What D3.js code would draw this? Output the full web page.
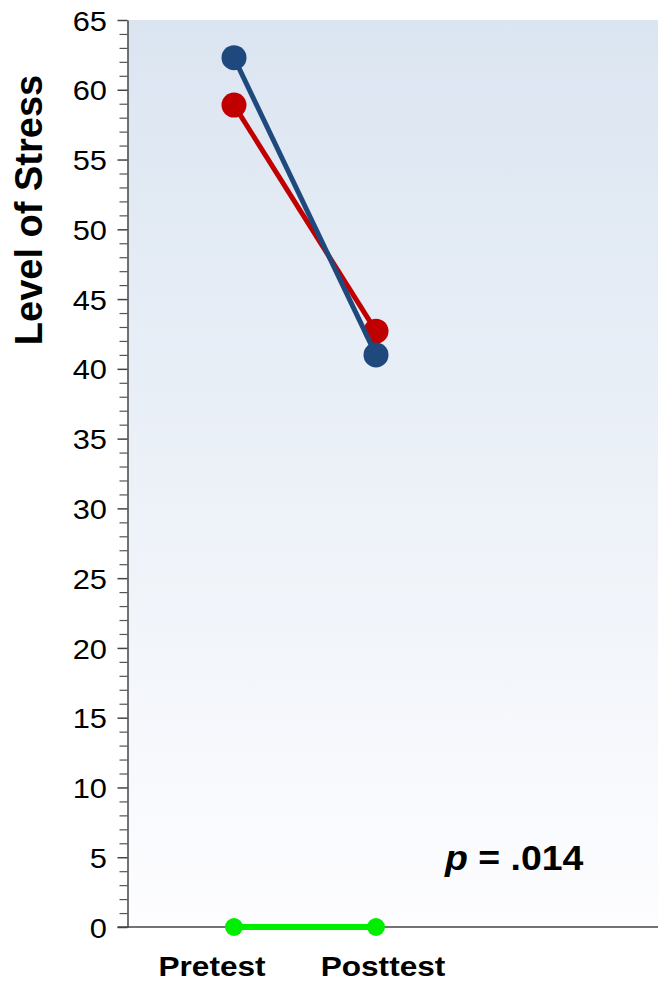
<!DOCTYPE html>
<html><head><meta charset="utf-8">
<script src="https://cdn.jsdelivr.net/npm/d3@7"></script>
<style>body{margin:0;background:#fff}svg{display:block}</style>
</head><body>
<svg id="c" width="658" height="982"></svg>
<script>
const categories = ["Pretest", "Posttest"];
const seriesBlue = [62.3, 41.0];
const seriesRed = [58.9, 42.7];
const seriesGreen = [0, 0];
const yTicks = [0,5,10,15,20,25,30,35,40,45,50,55,60,65];
const yTitle = "Level of Stress";
const pLabel = ".014";

(function(){
const svg = d3.select("#c");
const FONT = "Liberation Sans, Arial, sans-serif";
const mLeft = 127.5, mRight = 658, mTop = 20, mBottom = 927;
const y = d3.scaleLinear().domain([0, 65]).range([mBottom, mTop]);
const x = d3.scalePoint().domain(categories).range([234, 376]);

const defs = svg.append("defs");
const g = defs.append("linearGradient").attr("id","bg").attr("x1",0).attr("y1",0).attr("x2",0).attr("y2",1);
g.append("stop").attr("offset","0%").attr("stop-color","#dbe5f1");
g.append("stop").attr("offset","100%").attr("stop-color","#fdfdff");
svg.append("rect").attr("x",mLeft).attr("y",mTop).attr("width",mRight-mLeft).attr("height",mBottom-mTop).attr("fill","url(#bg)");

const minor = d3.range(0, 66, 1).filter(v => v % 5 !== 0);
svg.append("g").attr("transform",`translate(${mLeft},0)`)
  .call(d3.axisLeft(y).tickValues(minor).tickSize(8).tickFormat(""))
  .call(a => a.select(".domain").remove())
  .call(a => a.selectAll("line").attr("stroke","#555").attr("stroke-width",1.2));

const ax = svg.append("g").attr("transform",`translate(${mLeft},0)`)
  .call(d3.axisLeft(y).tickValues(yTicks).tickSize(10).tickSizeOuter(0).tickPadding(6));
ax.select(".domain").attr("stroke","#444").attr("stroke-width",1.5);
ax.selectAll("line").attr("stroke","#444").attr("stroke-width",1.5);
ax.selectAll(".tick text").attr("font-family",FONT).attr("font-size",28).attr("fill","#000")
  .attr("x",null).attr("dy","0.36em").attr("text-anchor","end")
  .attr("transform","translate(-20.5,0) scale(1.1,1)");

svg.append("line").attr("x1",mLeft-10).attr("x2",mRight).attr("y1",y(0)).attr("y2",y(0)).attr("stroke","#444").attr("stroke-width",1.5);

function drawSeries(vals, color, r, w){
  const line = d3.line().x((d,i)=>x(categories[i])).y(d=>y(d));
  svg.append("path").datum(vals).attr("d",line).attr("fill","none").attr("stroke",color).attr("stroke-width",w);
  svg.append("g").selectAll("circle").data(vals).join("circle")
    .attr("cx",(d,i)=>x(categories[i])).attr("cy",d=>y(d)).attr("r",r).attr("fill",color);
}
drawSeries(seriesRed, "#c00000", 12.5, 5);
drawSeries(seriesBlue, "#1f497d", 12.5, 5);
drawSeries(seriesGreen, "#00ee00", 9, 6);

const xOff = [-22, 7];
svg.append("g").selectAll("text").data(categories).join("text")
  .attr("transform",(d,i)=>`translate(${x(d)+xOff[i]},976) scale(1.17,1)`).attr("text-anchor","middle")
  .attr("font-family",FONT).attr("font-weight","bold").attr("font-size",27)
  .text(d=>d);

svg.append("text").attr("transform","translate(42,210) rotate(-90)").attr("text-anchor","middle")
  .attr("font-family",FONT).attr("font-weight","bold").attr("font-size",38)
  .text(yTitle);

const pt = svg.append("text").attr("transform","translate(445,870) scale(1.07,1)")
  .attr("font-family",FONT).attr("font-weight","bold").attr("font-size",35);
pt.append("tspan").attr("font-style","italic").text("p");
pt.append("tspan").text(" = " + pLabel);
})();
</script>
</body></html>
